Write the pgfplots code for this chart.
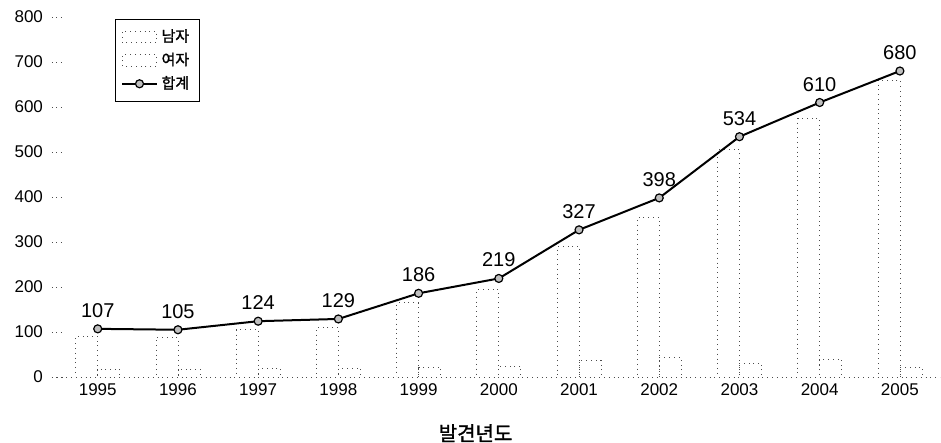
\documentclass[border=0pt]{standalone}
\usepackage{pgfplots}
\pgfplotsset{compat=1.18}
\usepackage{fontspec}
\setmainfont{Liberation Sans}
\newfontfamily\kr{Noto Sans CJK KR}
\newfontfamily\krb{Noto Sans CJK KR}[FakeBold=1.5]
\begin{document}
\begin{tikzpicture}
\begin{axis}[
  name=ax,
  scale only axis, width=444pt, height=180pt,
  xmin=-0.57, xmax=10.5, ymin=0, ymax=800,
  xtick={0,...,10}, xticklabels={1995,1996,1997,1998,1999,2000,2001,2002,2003,2004,2005},
  ytick={0,100,...,800},
  axis x line*=bottom, axis y line*=left,
  x axis line style={dotted, black!70, -},
  y axis line style={draw=none},
  xtick style={draw=none},
  ytick style={dotted, black!70, thin},
  tick align=inside, major tick length=6pt,
  /pgf/number format/assume math mode=true,
  yticklabel style={font=\fontsize{8.5}{10}\selectfont, xshift=-1pt},
  xticklabel style={font=\fontsize{8.5}{10}\selectfont},
  xlabel={\krb 발견년도},
  xlabel style={at={(axis description cs:0.477,-0.13)}, anchor=north, inner sep=0pt, font=\fontsize{10}{12}\selectfont},
  legend style={at={(axis description cs:0.071,0.995)}, anchor=north west, draw=black, font=\krb\fontsize{7.5}{9}\selectfont, row sep=0pt, inner sep=3pt, /tikz/every even column/.append style={column sep=6pt}},
  legend cell align=left,
]
\addplot[draw=black!70, dotted, fill=none, ybar, bar width=11pt, bar shift=-5.5pt, area legend]
  coordinates {(0,90)(1,88)(2,105)(3,110)(4,165)(5,195)(6,290)(7,355)(8,505)(9,575)(10,660)};
\addlegendentry{남자}
\addplot[draw=black!70, dotted, fill=none, ybar, bar width=11pt, bar shift=5.5pt, area legend]
  coordinates {(0,17)(1,17)(2,19)(3,19)(4,21)(5,24)(6,37)(7,43)(8,31)(9,40)(10,22)};
\addlegendentry{여자}
\addplot[black, line width=1pt, mark=*, mark size=2pt,
  mark options={fill=gray!50, draw=black, line width=0.6pt, solid},
  nodes near coords, nodes near coords style={font=\fontsize{10}{12}\selectfont, anchor=south, yshift=2pt}]
  coordinates {(0,107)(1,105)(2,124)(3,129)(4,186)(5,219)(6,327)(7,398)(8,534)(9,610)(10,680)};
\addlegendentry{합계}
\end{axis}
\pgfresetboundingbox
\path (ax.south west) ++(-26pt,-33pt) rectangle ([shift={(0.5pt,8.5pt)}]ax.north east);
\end{tikzpicture}
\end{document}
